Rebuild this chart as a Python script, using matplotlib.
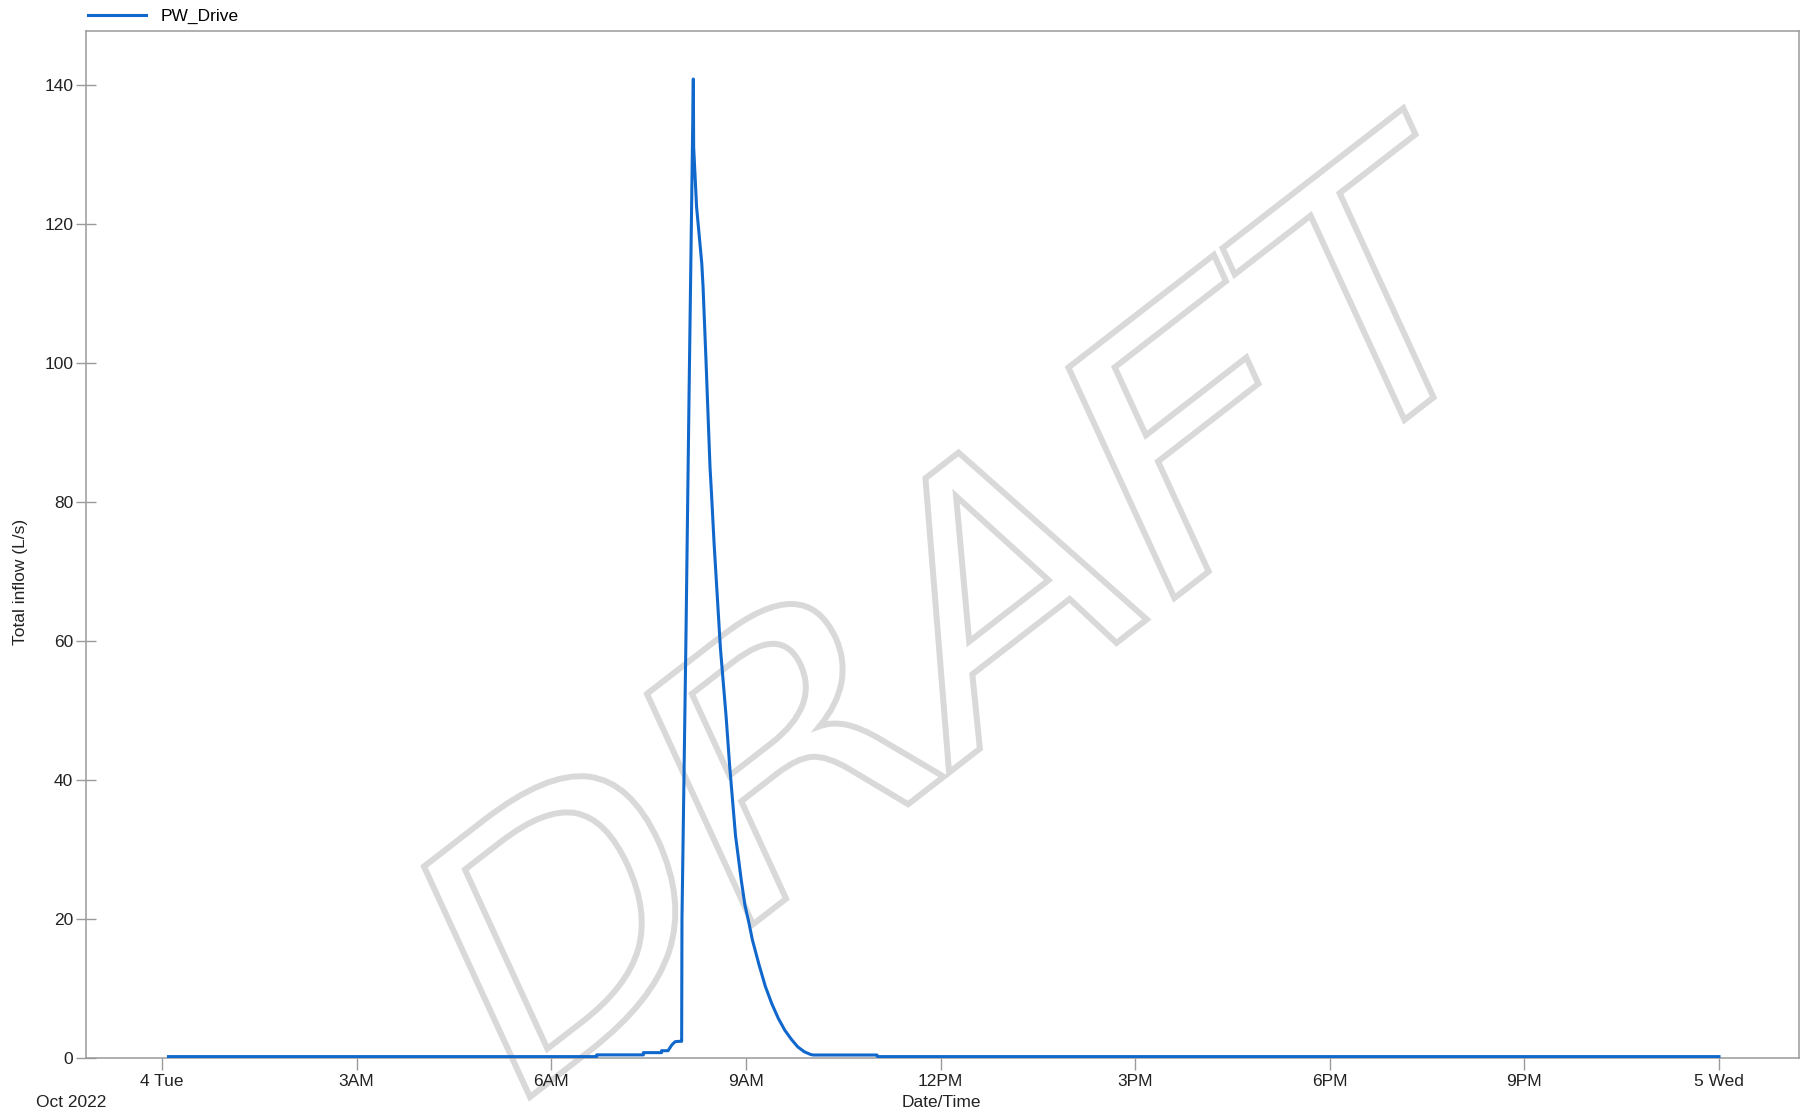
import numpy as np
import matplotlib
matplotlib.use("Agg")
import matplotlib.pyplot as plt
from matplotlib.textpath import TextPath
from matplotlib.patches import PathPatch
from matplotlib.font_manager import FontProperties
from matplotlib.transforms import Affine2D

plt.rcParams["font.family"] = ["Liberation Sans", "DejaVu Sans"]

W, H = 1816, 1119

# hours after midnight, 4 Oct 2022
hours = [0.10, 6.70, 6.70, 7.42, 7.42, 7.70, 7.70, 7.80, 7.86, 7.91, 7.98, 8.01,
         8.015, 8.077, 8.123, 8.19, 8.195, 8.24, 8.32, 8.34, 8.385, 8.447, 8.47,
         8.51, 8.607, 8.696, 8.75, 8.84, 8.93, 8.985, 9.05, 9.10, 9.20, 9.30,
         9.40, 9.50, 9.60, 9.70, 9.80, 9.90, 10.00, 10.04, 11.02, 11.03, 24.0]
inflow = [0.2, 0.2, 0.45, 0.45, 0.77, 0.77, 1.05, 1.05, 1.9, 2.35, 2.4, 2.4,
          20.0, 61.0, 94.6, 140.8, 131.0, 122.4, 114.3, 110.9, 100.4, 85.0, 81.2,
          74.0, 59.0, 49.0, 42.0, 32.0, 25.5, 22.0, 19.3, 17.0, 13.5, 10.3,
          7.8, 5.7, 4.0, 2.7, 1.6, 0.9, 0.5, 0.43, 0.43, 0.2, 0.2]

xtick_pos = [0, 3, 6, 9, 12, 15, 18, 21, 24]
xtick_lab = ["4 Tue", "3AM", "6AM", "9AM", "12PM", "3PM", "6PM", "9PM", "5 Wed"]
ytick_pos = [0, 20, 40, 60, 80, 100, 120, 140]

GRAY = "#9a9a9a"
TXT = "#222222"
BLUE = "#1068cc"

fig = plt.figure(figsize=(W / 100, H / 100), dpi=100)
ax = fig.add_axes([86 / W, 1 - 1058 / H, (1799 - 86) / W, (1058 - 31) / H])

ax.plot(hours, inflow, color=BLUE, lw=2.2, label="PW_Drive", zorder=3)

ax.set_xlim(-1.1715, 25.233)
ax.set_ylim(0, 147.7)
ax.set_xticks(xtick_pos)
ax.set_xticklabels(xtick_lab)
ax.set_yticks(ytick_pos)

for s in ax.spines.values():
    s.set_color(GRAY)
    s.set_linewidth(1.1)
ax.tick_params(axis="y", direction="inout", length=14.5, width=1, color=GRAY,
               pad=2, labelsize=12.5, labelcolor=TXT)
ax.tick_params(axis="x", direction="out", length=8.5, width=1, color=GRAY,
               pad=3, labelsize=12.5, labelcolor=TXT)

fig.text(36 / W, 1 - 1102.5 / H, "Oct 2022", ha="left", va="center",
         fontsize=12.5, color=TXT)
fig.text(941.5 / W, 1 - 1102.5 / H, "Date/Time", ha="center", va="center",
         fontsize=12.5, color=TXT)
fig.text(21 / W, 1 - 582 / H, "Total inflow (L/s)", ha="center", va="center",
         rotation=90, fontsize=12.5, color=TXT)

ax.legend(loc="upper left", bbox_to_anchor=(88 / W, 1 - 9 / H),
          bbox_transform=fig.transFigure, frameon=False, fontsize=12.5,
          handlelength=3.35, handletextpad=0.85, borderpad=0, borderaxespad=0)

# DRAFT watermark, outlined and slanted
prop = FontProperties(family="DejaVu Sans")
origin = np.array([530.0, H - 1097.0])
b = np.array([np.cos(np.radians(37.75)), np.sin(np.radians(37.75))])
up = np.array([-0.418, 0.909])
up = up / np.linalg.norm(up)
em_b, em_u = 360.0, 348.0
# letter: (offset along baseline in px, horizontal stretch)
letters = {"D": (0, 1.04), "R": (282, 1.18), "A": (530, 1.04),
           "F": (815, 1.22), "T": (1010, 1.03)}
for ch, (pos, sx) in letters.items():
    tp = TextPath((0, 0), ch, size=1, prop=prop)
    x0 = tp.get_extents().x0
    o = origin + pos * b
    kb = em_b * sx
    m = np.array([[kb * b[0], em_u * up[0], o[0] - x0 * kb * b[0]],
                  [kb * b[1], em_u * up[1], o[1] - x0 * kb * b[1]],
                  [0, 0, 1]])
    trf = Affine2D(m).scale(1 / W, 1 / H) + fig.transFigure
    ax.add_patch(PathPatch(tp, transform=trf, facecolor="none",
                           edgecolor="#d9d9d9", lw=4.3, clip_on=False, zorder=1))

fig.savefig("out.png", dpi=100)
